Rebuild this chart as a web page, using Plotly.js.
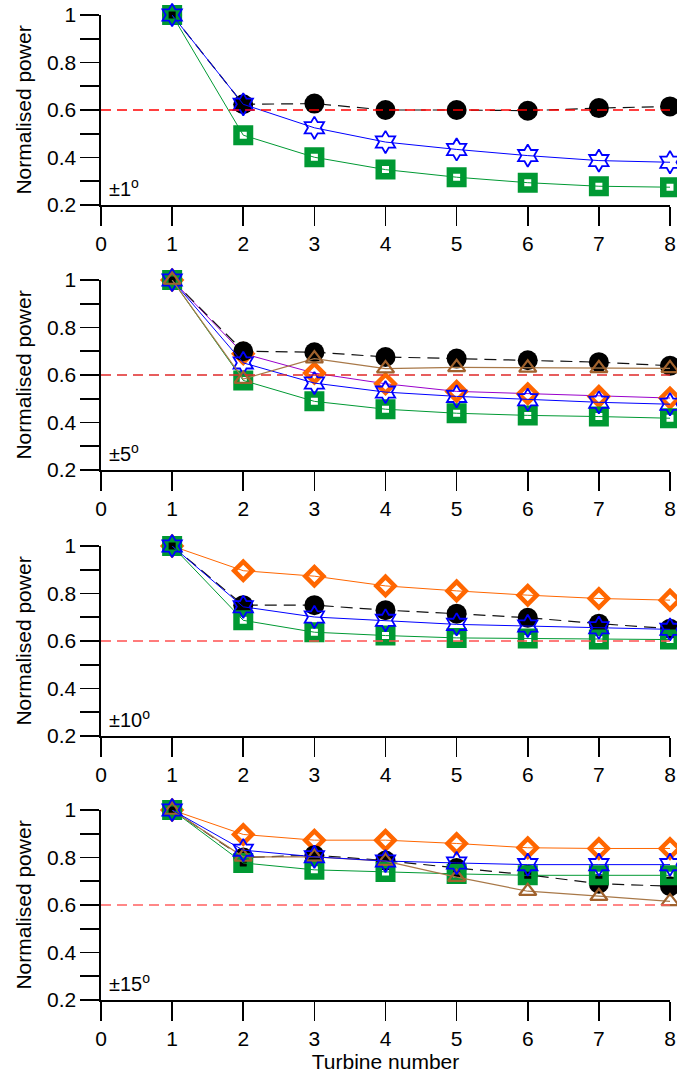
<!DOCTYPE html>
<html>
<head>
<meta charset="utf-8">
<script src="https://cdn.plot.ly/plotly-3.0.1.min.js"></script>
<style>html,body{margin:0;padding:0;background:#fff;}#chart{width:677px;height:1075px;}</style>
</head>
<body>
<div id="chart"></div>
<script>
// ---------- data ----------
const turbines = [1, 2, 3, 4, 5, 6, 7, 8];
const xTicks = [0, 1, 2, 3, 4, 5, 6, 7, 8];
const yTicks = [0.2, 0.4, 0.6, 0.8, 1];
const yTickLabels = ['0.2', '0.4', '0.6', '0.8', '1'];
const threshold = 0.6;
const thresholdX = [0, 8];
const panelLabels = ['±1<sup>o</sup>', '±5<sup>o</sup>', '±10<sup>o</sup>', '±15<sup>o</sup>'];
const yTitle = 'Normalised power';
const xTitle = 'Turbine number';

// Panel 1 (±1°)
const p1_black = [1.0, 0.624, 0.627, 0.600, 0.600, 0.597, 0.608, 0.615];
const p1_blue  = [1.0, 0.624, 0.525, 0.465, 0.434, 0.408, 0.387, 0.380];
const p1_green = [1.0, 0.494, 0.401, 0.349, 0.317, 0.294, 0.279, 0.275];

// Panel 2 (±5°)
const p2_black  = [1.0, 0.700, 0.696, 0.676, 0.669, 0.662, 0.654, 0.639];
const p2_green  = [1.0, 0.577, 0.489, 0.456, 0.439, 0.430, 0.425, 0.418];
const p2_orange = [1.0, 0.690, 0.608, 0.563, 0.531, 0.521, 0.510, 0.503];
const p2_blue   = [1.0, 0.651, 0.566, 0.528, 0.510, 0.496, 0.485, 0.477];
const p2_brown  = [1.0, 0.583, 0.669, 0.627, 0.632, 0.630, 0.628, 0.628];

// Panel 3 (±10°)
const p3_black  = [1.0, 0.751, 0.751, 0.730, 0.715, 0.698, 0.673, 0.652];
const p3_green  = [1.0, 0.687, 0.637, 0.623, 0.613, 0.610, 0.606, 0.606];
const p3_orange = [1.0, 0.896, 0.873, 0.832, 0.811, 0.793, 0.779, 0.772];
const p3_blue   = [1.0, 0.744, 0.701, 0.687, 0.670, 0.663, 0.656, 0.649];

// Panel 4 (±15°)
const p4_black  = [1.0, 0.800, 0.810, 0.787, 0.756, 0.727, 0.690, 0.679];
const p4_green  = [1.0, 0.777, 0.748, 0.739, 0.731, 0.725, 0.725, 0.725];
const p4_brown  = [1.0, 0.803, 0.803, 0.785, 0.717, 0.658, 0.637, 0.615];
const p4_blue   = [1.0, 0.831, 0.803, 0.785, 0.777, 0.770, 0.770, 0.770];
const p4_orange = [1.0, 0.897, 0.873, 0.873, 0.859, 0.841, 0.838, 0.838];

// ---------- styles ----------
const GREEN = '#009933', BLUE = '#0000ff', ORANGE = '#ff6600', BROWN = '#a0622d', PURPLE = '#9900cc';

function black(y, ax) {
  return {x: turbines, y: y, xaxis: 'x' + ax, yaxis: 'y' + ax, mode: 'lines+markers', cliponaxis: false,
    line: {color: '#111', width: 1.2, dash: '12px,7px'},
    marker: {symbol: 'circle', size: 20, color: '#000'}};
}
function green(y, ax) {
  return {x: turbines, y: y, xaxis: 'x' + ax, yaxis: 'y' + ax, mode: 'lines+markers', cliponaxis: false,
    line: {color: GREEN, width: 1},
    marker: {symbol: 'square-open', size: 13.5, color: GREEN, line: {color: GREEN, width: 6.5}}};
}
function blue(y, ax) {
  return {x: turbines, y: y, xaxis: 'x' + ax, yaxis: 'y' + ax, mode: 'lines+markers', cliponaxis: false,
    line: {color: BLUE, width: 1},
    marker: {symbol: 'hexagram-open', size: 17, color: BLUE, line: {color: BLUE, width: 1.8}}};
}
function orange(y, ax, lineColor) {
  return {x: turbines, y: y, xaxis: 'x' + ax, yaxis: 'y' + ax, mode: 'lines+markers', cliponaxis: false,
    line: {color: lineColor || ORANGE, width: 1},
    marker: {symbol: 'diamond-open', size: 14, color: ORANGE, line: {color: ORANGE, width: 4.5}}};
}
function brown(y, ax) {
  return {x: turbines, y: y, xaxis: 'x' + ax, yaxis: 'y' + ax, mode: 'lines+markers', cliponaxis: false,
    line: {color: '#a87848', width: 1.2},
    marker: {symbol: 'triangle-up-open', size: 15, color: BROWN, line: {color: BROWN, width: 2.2}}};
}
function red(ax, col) {
  return {x: thresholdX, y: [threshold, threshold], xaxis: 'x' + ax, yaxis: 'y' + ax, mode: 'lines',
    cliponaxis: false, line: {color: col, width: 1.6, dash: '10px,6px'}};
}

const traces = [
  black(p1_black, ''), green(p1_green, ''), blue(p1_blue, ''), red('', '#ff0000'),
  orange(p2_orange, 2, PURPLE), black(p2_black, 2), green(p2_green, 2), blue(p2_blue, 2), brown(p2_brown, 2), red(2, '#e02828'),
  orange(p3_orange, 3), black(p3_black, 3), green(p3_green, 3), blue(p3_blue, 3), red(3, '#ff5050'),
  orange(p4_orange, 4), black(p4_black, 4), green(p4_green, 4), brown(p4_brown, 4), blue(p4_blue, 4), red(4, '#ff6060')
];
traces.forEach(t => { t.showlegend = false; t.hoverinfo = 'skip'; });

// ---------- layout ----------
const FONT = '"Liberation Sans", Arial, sans-serif';
const H = 1075, mT = 15, mB = 75, plotH = H - mT - mB;
const panelTops = [15, 280, 546, 810];
const panelH = 190;

function dom(top) {
  const bottom = top + panelH;
  return [(H - mB - bottom) / plotH, (H - mB - top) / plotH];
}
function xax(anchor, withTitle) {
  const a = {domain: [0, 1], range: [0, 8], anchor: anchor, tickmode: 'array', tickvals: xTicks,
    ticktext: xTicks.map(String), ticks: 'outside', ticklen: 19, tickwidth: 1.6, tickcolor: '#000',
    showline: true, linecolor: '#000', linewidth: 1.6, showgrid: false, zeroline: false,
    tickfont: {family: FONT, size: 21, color: '#000'}, fixedrange: true};
  if (withTitle) a.title = {text: xTitle, font: {family: FONT, size: 21, color: '#000'}, standoff: 0};
  return a;
}
function yax(anchor, top) {
  return {domain: dom(top), range: [0.2, 1], anchor: anchor, tickmode: 'array', tickvals: yTicks,
    ticktext: yTickLabels, ticks: 'outside', ticklen: 19, tickwidth: 1.6, tickcolor: '#000',
    minor: {dtick: 0.1, tick0: 0, ticks: 'outside', ticklen: 19, tickwidth: 1.6, tickcolor: '#000', showgrid: false},
    showline: true, linecolor: '#000', linewidth: 1.6, showgrid: false, zeroline: false,
    tickfont: {family: FONT, size: 21, color: '#000'},
    title: {text: yTitle, font: {family: FONT, size: 21, color: '#000'}, standoff: 9}, fixedrange: true};
}

const annotations = panelLabels.map((t, i) => ({
  text: t, xref: (i === 0 ? 'x' : 'x' + (i + 1)) + ' domain', yref: (i === 0 ? 'y' : 'y' + (i + 1)) + ' domain',
  x: 0.01, y: 0.09, xanchor: 'left', yanchor: 'middle', showarrow: false,
  font: {family: FONT, size: 20, color: '#000'}
}));

const layout = {
  width: 677, height: 1075,
  margin: {l: 101, r: 7, t: mT, b: mB},
  paper_bgcolor: '#fff', plot_bgcolor: '#fff',
  font: {family: FONT, color: '#000'},
  showlegend: false,
  xaxis: xax('y', false), yaxis: yax('x', panelTops[0]),
  xaxis2: xax('y2', false), yaxis2: yax('x2', panelTops[1]),
  xaxis3: xax('y3', false), yaxis3: yax('x3', panelTops[2]),
  xaxis4: xax('y4', true), yaxis4: yax('x4', panelTops[3]),
  annotations: annotations
};

Plotly.newPlot('chart', traces, layout, {staticPlot: true, displayModeBar: false});
</script>
</body>
</html>
